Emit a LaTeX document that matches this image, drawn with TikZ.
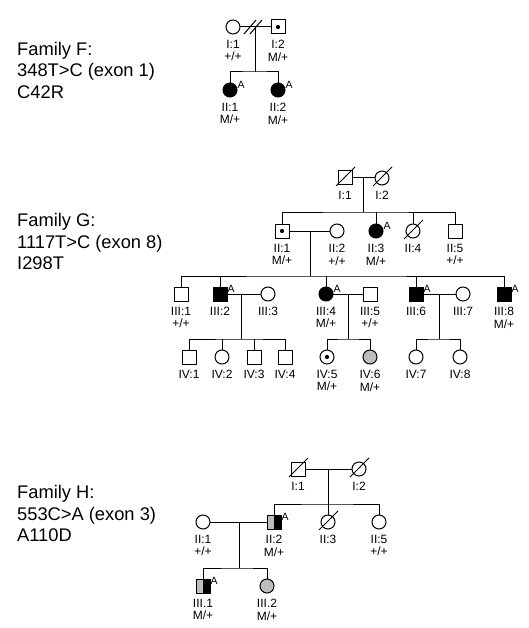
\documentclass[tikz,border=0pt]{standalone}
\usepackage{fontspec}
\setmainfont{Liberation Sans}
\definecolor{lightg}{gray}{0.74}
\begin{document}
\begin{tikzpicture}[x=1pt,y=-1pt,
  ln/.style={line width=1pt},
  sym/.style={draw, line width=1pt, minimum size=14pt, inner sep=0pt, outer sep=0pt},
  male/.style={sym, rectangle},
  female/.style={sym, circle},
  aff/.style={fill=black},
  grayf/.style={fill=lightg},
  carrier/.style={path picture={\fill[black] (path picture bounding box.center) circle (2.1pt);}},
  halfsq/.style={male, path picture={\fill[lightg] (path picture bounding box.south west) rectangle (path picture bounding box.north); \fill[black] (path picture bounding box.south) rectangle (path picture bounding box.north east);}},
  amark/.style={font=\fontsize{10.5}{10.5}\selectfont, anchor=west, inner sep=1pt},
  lab/.style={font=\fontsize{12}{12.5}\selectfont, align=center, inner sep=0pt, anchor=north, yshift=-6pt},
  fam/.style={font=\fontsize{18.3}{21.5}\selectfont, align=left, inner sep=0pt, anchor=north west},
]
\useasboundingbox (0,0) rectangle (529,628);

% ---------------- Family F ----------------
\node[fam] (famF) at (17,42) {Family F:\\348T>C (exon 1)\\C42R};
\node[female] (fI1) at (233,27) {};
\node[male,carrier] (fI2) at (278,27) {};
\node[female,aff] (fII1) at (230,90) {};
\node[female,aff] (fII2) at (278,90) {};
\coordinate (fm) at (255,27);
\coordinate (fs) at (255,72);
\draw[ln] (fI1) -- (fI2);
\draw[ln] (244,34) -- (256,20);
\draw[ln] (250,34) -- (262,20);
\draw[ln] (fm) -- (fs);
\draw[ln] (fII1) |- (fs) -| (fII2);
\node[lab] (fI1l) at (fI1.south) {I:1\\+/+};
\node[lab] (fI2l) at (fI2.south) {I:2\\M/+};
\node[lab] (fII1l) at (fII1.south) {II:1\\M/+};
\node[lab] (fII2l) at (fII2.south) {II:2\\M/+};
\node[amark] (fII1a) at ([shift={(6.5,-5)}]fII1.center) {A};
\node[amark] (fII2a) at ([shift={(6.5,-5)}]fII2.center) {A};

% ---------------- Family G ----------------
\node[fam] (famG) at (17,213.5) {Family G:\\1117T>C (exon 8)\\I298T};
\node[male] (gI1) at (345,178) {};
\node[female] (gI2) at (382,178) {};
\draw[ln] ([shift={(-9,8)}]gI1.center) -- ([shift={(10,-11)}]gI1.center);
\draw[ln] ([shift={(-9,8)}]gI2.center) -- ([shift={(10,-11)}]gI2.center);
\coordinate (gm1) at (363,178);
\coordinate (gs1) at (363,212);
\draw[ln] (gI1) -- (gI2);
\draw[ln] (gm1) -- (gs1);
\node[lab] (gI1l) at (gI1.south) {I:1};
\node[lab] (gI2l) at (gI2.south) {I:2};

\node[male,carrier] (gII1) at (282,231) {};
\node[female] (gII2) at (337,231) {};
\node[female,aff] (gII3) at (376,231) {};
\node[female] (gII4) at (413,231) {};
\node[male] (gII5) at (455,231) {};
\draw[ln] ([shift={(-9,8)}]gII4.center) -- ([shift={(10,-11)}]gII4.center);
\draw[ln] (gII1) |- (gs1) -| (gII5);
\draw[ln] (gII3) -- (gII3 |- gs1);
\draw[ln] (gII4) -- (gII4 |- gs1);
\node[lab] (gII1l) at (gII1.south) {II:1\\M/+};
\node[lab] (gII2l) at (gII2.south) {II:2\\+/+};
\node[lab] (gII3l) at (gII3.south) {II:3\\M/+};
\node[lab] (gII4l) at (gII4.south) {II:4};
\node[lab] (gII5l) at (gII5.south) {II:5\\+/+};
\node[amark] (gII3a) at ([shift={(6.5,-5)}]gII3.center) {A};
\coordinate (gm2) at (310,231);
\coordinate (gs2) at (310,276);
\draw[ln] (gII1) -- (gII2);
\draw[ln] (gm2) -- (gs2);

\node[male] (gIII1) at (181,294) {};
\node[male,aff] (gIII2) at (220,294) {};
\node[female] (gIII3) at (268,294) {};
\node[female,aff] (gIII4) at (326,294) {};
\node[male] (gIII5) at (370,294) {};
\node[male,aff] (gIII6) at (416,294) {};
\node[female] (gIII7) at (463,294) {};
\node[male,aff] (gIII8) at (504,294) {};
\draw[ln] (gIII1) |- (gs2) -| (gIII8);
\draw[ln] (gIII2) -- (gIII2 |- gs2);
\draw[ln] (gIII4) -- (gIII4 |- gs2);
\draw[ln] (gIII6) -- (gIII6 |- gs2);
\node[lab] (gIII1l) at (gIII1.south) {III:1\\+/+};
\node[lab] (gIII2l) at (gIII2.south) {III:2};
\node[lab] (gIII3l) at (gIII3.south) {III:3};
\node[lab] (gIII4l) at (gIII4.south) {III:4\\M/+};
\node[lab] (gIII5l) at (gIII5.south) {III:5\\+/+};
\node[lab] (gIII6l) at (gIII6.south) {III:6};
\node[lab] (gIII7l) at (gIII7.south) {III:7};
\node[lab] (gIII8l) at (gIII8.south) {III:8\\M/+};
\node[amark] (gIII2a) at ([shift={(6.5,-5)}]gIII2.center) {A};
\node[amark] (gIII4a) at ([shift={(6.5,-5)}]gIII4.center) {A};
\node[amark] (gIII6a) at ([shift={(6.5,-5)}]gIII6.center) {A};
\node[amark] (gIII8a) at ([shift={(6.5,-5)}]gIII8.center) {A};

\coordinate (gm3) at (241,294);
\coordinate (gs3) at (241,339);
\coordinate (gm4) at (348,294);
\coordinate (gs4) at (348,339);
\coordinate (gm5) at (439,294);
\coordinate (gs5) at (439,339);
\draw[ln] (gIII2) -- (gIII3);
\draw[ln] (gIII4) -- (gIII5);
\draw[ln] (gIII6) -- (gIII7);
\draw[ln] (gm3) -- (gs3);
\draw[ln] (gm4) -- (gs4);
\draw[ln] (gm5) -- (gs5);

\node[male] (gIV1) at (189,357) {};
\node[female] (gIV2) at (222,357) {};
\node[male] (gIV3) at (254,357) {};
\node[male] (gIV4) at (285,357) {};
\node[female,carrier] (gIV5) at (327,357) {};
\node[female,grayf] (gIV6) at (370,357) {};
\node[female] (gIV7) at (416,357) {};
\node[female] (gIV8) at (460,357) {};
\draw[ln] (gIV1) |- (gs3) -| (gIV4);
\draw[ln] (gIV2) -- (gIV2 |- gs3);
\draw[ln] (gIV3) -- (gIV3 |- gs3);
\draw[ln] (gIV5) |- (gs4) -| (gIV6);
\draw[ln] (gIV7) |- (gs5) -| (gIV8);
\node[lab] (gIV1l) at (gIV1.south) {IV:1};
\node[lab] (gIV2l) at (gIV2.south) {IV:2};
\node[lab] (gIV3l) at (gIV3.south) {IV:3};
\node[lab] (gIV4l) at (gIV4.south) {IV:4};
\node[lab] (gIV5l) at (gIV5.south) {IV:5\\M/+};
\node[lab] (gIV6l) at (gIV6.south) {IV:6\\M/+};
\node[lab] (gIV7l) at (gIV7.south) {IV:7};
\node[lab] (gIV8l) at (gIV8.south) {IV:8};

% ---------------- Family H ----------------
\node[fam] (famH) at (17,485.5) {Family H:\\553C>A (exon 3)\\A110D};
\node[male] (hI1) at (298,469) {};
\node[female] (hI2) at (359,469) {};
\draw[ln] ([shift={(-9,8)}]hI1.center) -- ([shift={(10,-11)}]hI1.center);
\draw[ln] ([shift={(-9,8)}]hI2.center) -- ([shift={(10,-11)}]hI2.center);
\coordinate (hm1) at (328,469);
\coordinate (hs1) at (328,504);
\draw[ln] (hI1) -- (hI2);
\draw[ln] (hm1) -- (hs1);
\node[lab] (hI1l) at (hI1.south) {I:1};
\node[lab] (hI2l) at (hI2.south) {I:2};

\node[female] (hII1) at (203,522) {};
\node[halfsq] (hII2) at (274,522) {};
\node[female] (hII3) at (328,522) {};
\node[female] (hII5) at (379,522) {};
\draw[ln] ([shift={(-9,8)}]hII3.center) -- ([shift={(10,-11)}]hII3.center);
\draw[ln] (hII2) |- (hs1) -| (hII5);
\draw[ln] (hII3) -- (hs1);
\node[lab] (hII1l) at (hII1.south) {II:1\\+/+};
\node[lab] (hII2l) at (hII2.south) {II:2\\M/+};
\node[lab] (hII3l) at (hII3.south) {II:3};
\node[lab] (hII5l) at (hII5.south) {II:5\\+/+};
\node[amark] (hII2a) at ([shift={(6.5,-5)}]hII2.center) {A};
\coordinate (hm2) at (239,522);
\coordinate (hs2) at (239,568);
\draw[ln] (hII1) -- (hII2);
\draw[ln] (hm2) -- (hs2);

\node[halfsq] (hIII1) at (203,586) {};
\node[female,grayf] (hIII2) at (267,586) {};
\draw[ln] (hIII1) |- (hs2) -| (hIII2);
\node[lab] (hIII1l) at (hIII1.south) {III.1\\M/+};
\node[lab] (hIII2l) at (hIII2.south) {III.2\\M/+};
\node[amark] (hIII1a) at ([shift={(6.5,-5)}]hIII1.center) {A};
\end{tikzpicture}
\end{document}
